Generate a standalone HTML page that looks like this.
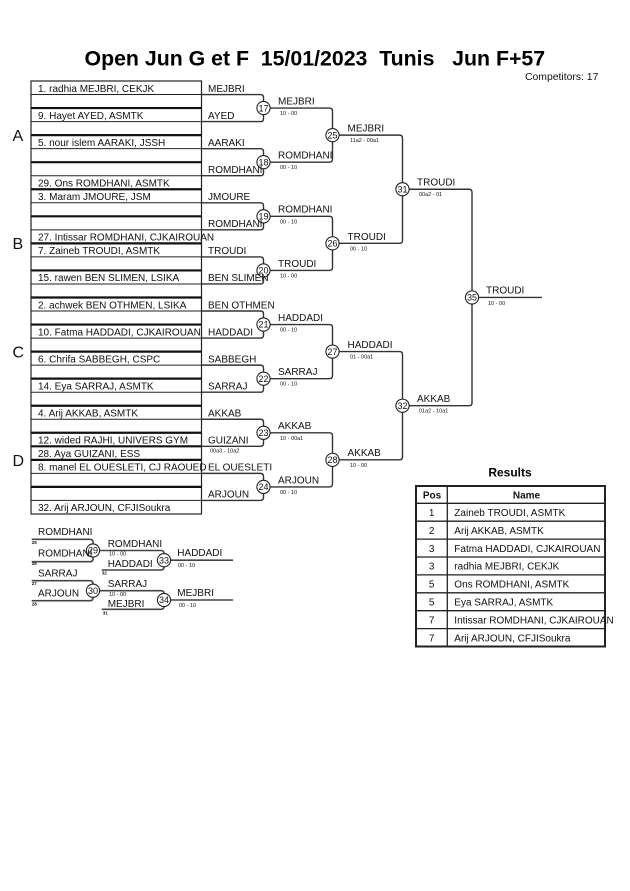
<!DOCTYPE html>
<html>
<head>
<meta charset="utf-8">
<style>
html,body{margin:0;padding:0;background:#fff;}
svg{display:block;}
text{font-family:"Liberation Sans",Arial,sans-serif;fill:#111;}
.n{font-size:10px;}
.s{font-size:5.5px;}
.c{font-size:9px;text-anchor:middle;}
.t{font-size:4.6px;font-weight:bold;}
</style>
</head>
<body>
<svg width="630" height="891" viewBox="0 0 630 891" xmlns="http://www.w3.org/2000/svg">
<rect width="630" height="891" fill="#fff"/>

<!-- Title -->
<text x="84.5" y="65.5" xml:space="preserve" style="font-size:21.3px;font-weight:bold;white-space:pre;fill:#000">Open Jun G et F  15/01/2023  Tunis   Jun F+57</text>
<text x="525" y="80" style="font-size:10.4px">Competitors: 17</text>

<!-- Pool letters -->
<text x="12.5" y="141" style="font-size:16px">A</text>
<text x="12.5" y="249" style="font-size:16px">B</text>
<text x="12.5" y="357.5" style="font-size:16px">C</text>
<text x="12.5" y="466" style="font-size:16px">D</text>

<!-- Left box -->
<g stroke="#222" fill="none">
<rect x="31" y="81" width="170.5" height="433" stroke-width="1.2"/>
<g stroke-width="1">
<line x1="31" y1="94.53" x2="201.5" y2="94.53"/>
<line x1="31" y1="121.59" x2="201.5" y2="121.59"/>
<line x1="31" y1="148.65" x2="201.5" y2="148.65"/>
<line x1="31" y1="175.71" x2="201.5" y2="175.71"/>
<line x1="31" y1="202.77" x2="201.5" y2="202.77"/>
<line x1="31" y1="229.83" x2="201.5" y2="229.83"/>
<line x1="31" y1="256.89" x2="201.5" y2="256.89"/>
<line x1="31" y1="283.95" x2="201.5" y2="283.95"/>
<line x1="31" y1="311.01" x2="201.5" y2="311.01"/>
<line x1="31" y1="338.07" x2="201.5" y2="338.07"/>
<line x1="31" y1="365.13" x2="201.5" y2="365.13"/>
<line x1="31" y1="392.19" x2="201.5" y2="392.19"/>
<line x1="31" y1="419.25" x2="201.5" y2="419.25"/>
<line x1="31" y1="446.31" x2="201.5" y2="446.31"/>
<line x1="31" y1="473.37" x2="201.5" y2="473.37"/>
<line x1="31" y1="500.43" x2="201.5" y2="500.43"/>
</g>
<g stroke-width="2.2" stroke="#111">
<line x1="31" y1="108.06" x2="201.5" y2="108.06"/>
<line x1="31" y1="135.12" x2="201.5" y2="135.12"/>
<line x1="31" y1="162.18" x2="201.5" y2="162.18"/>
<line x1="31" y1="189.24" x2="201.5" y2="189.24"/>
<line x1="31" y1="216.3" x2="201.5" y2="216.3"/>
<line x1="31" y1="243.36" x2="201.5" y2="243.36"/>
<line x1="31" y1="270.42" x2="201.5" y2="270.42"/>
<line x1="31" y1="297.48" x2="201.5" y2="297.48"/>
<line x1="31" y1="324.54" x2="201.5" y2="324.54"/>
<line x1="31" y1="351.6" x2="201.5" y2="351.6"/>
<line x1="31" y1="378.66" x2="201.5" y2="378.66"/>
<line x1="31" y1="405.72" x2="201.5" y2="405.72"/>
<line x1="31" y1="432.78" x2="201.5" y2="432.78"/>
<line x1="31" y1="446.31" x2="201.5" y2="446.31"/>
<line x1="31" y1="459.84" x2="201.5" y2="459.84"/>
<line x1="31" y1="486.9" x2="201.5" y2="486.9"/>
</g>
</g>

<!-- Bracket lines -->
<g stroke="#333" stroke-width="1.4" fill="none">
<path d="M201.5 94.53 H260.5 Q263.5 94.53 263.5 97.53 V118.59 Q263.5 121.59 260.5 121.59 H201.5"/>
<path d="M201.5 148.65 H260.5 Q263.5 148.65 263.5 151.65 V172.71 Q263.5 175.71 260.5 175.71 H201.5"/>
<path d="M201.5 202.77 H260.5 Q263.5 202.77 263.5 205.77 V226.83 Q263.5 229.83 260.5 229.83 H201.5"/>
<path d="M201.5 256.89 H260.5 Q263.5 256.89 263.5 259.89 V280.95 Q263.5 283.95 260.5 283.95 H201.5"/>
<path d="M201.5 311.01 H260.5 Q263.5 311.01 263.5 314.01 V335.07 Q263.5 338.07 260.5 338.07 H201.5"/>
<path d="M201.5 365.13 H260.5 Q263.5 365.13 263.5 368.13 V389.19 Q263.5 392.19 260.5 392.19 H201.5"/>
<path d="M201.5 419.25 H260.5 Q263.5 419.25 263.5 422.25 V443.31 Q263.5 446.31 260.5 446.31 H201.5"/>
<path d="M201.5 473.37 H260.5 Q263.5 473.37 263.5 476.37 V497.43 Q263.5 500.43 260.5 500.43 H201.5"/>

<path d="M263.5 108.06 H329.5 Q332.5 108.06 332.5 111.06 V159.18 Q332.5 162.18 329.5 162.18 H263.5"/>
<path d="M263.5 216.3 H329.5 Q332.5 216.3 332.5 219.3 V267.42 Q332.5 270.42 329.5 270.42 H263.5"/>
<path d="M263.5 324.54 H329.5 Q332.5 324.54 332.5 327.54 V375.66 Q332.5 378.66 329.5 378.66 H263.5"/>
<path d="M263.5 432.78 H329.5 Q332.5 432.78 332.5 435.78 V483.9 Q332.5 486.9 329.5 486.9 H263.5"/>

<path d="M332.5 135.12 H399.5 Q402.5 135.12 402.5 138.12 V240.36 Q402.5 243.36 399.5 243.36 H332.5"/>
<path d="M332.5 351.6 H399.5 Q402.5 351.6 402.5 354.6 V456.84 Q402.5 459.84 399.5 459.84 H332.5"/>

<path d="M402.5 189.24 H469 Q472 189.24 472 192.24 V402.72 Q472 405.72 469 405.72 H402.5"/>
<path d="M472 297.48 H542"/>
</g>

<!-- Consolation lines -->
<g stroke="#444" stroke-width="1.6" fill="none">
<path d="M31.7 539.3 H90 Q93 539.3 93 542.3 V558.7 Q93 561.7 90 561.7 H31.7"/>
<path d="M31.7 580.7 H90 Q93 580.7 93 583.7 V597.7 Q93 600.7 90 600.7 H31.7"/>
<path d="M93 550.5 H161 Q164 550.5 164 553.5 V567 Q164 570 161 570 H101.7"/>
<path d="M93 590.7 H161 Q164 590.7 164 593.7 V606.3 Q164 609.3 161 609.3 H101.7"/>
<path d="M164 560.2 H233"/>
<path d="M164 600 H233"/>
</g>

<!-- Circles -->
<g fill="#fff" stroke="#222" stroke-width="1.1">
<circle cx="263.5" cy="108.06" r="6.6"/>
<circle cx="263.5" cy="162.18" r="6.6"/>
<circle cx="263.5" cy="216.3" r="6.6"/>
<circle cx="263.5" cy="270.42" r="6.6"/>
<circle cx="263.5" cy="324.54" r="6.6"/>
<circle cx="263.5" cy="378.66" r="6.6"/>
<circle cx="263.5" cy="432.78" r="6.6"/>
<circle cx="263.5" cy="486.9" r="6.6"/>
<circle cx="332.5" cy="135.12" r="6.6"/>
<circle cx="332.5" cy="243.36" r="6.6"/>
<circle cx="332.5" cy="351.6" r="6.6"/>
<circle cx="332.5" cy="459.84" r="6.6"/>
<circle cx="402.5" cy="189.24" r="6.6"/>
<circle cx="402.5" cy="405.72" r="6.6"/>
<circle cx="472" cy="297.48" r="6.6"/>
<circle cx="93" cy="550.5" r="6.6"/>
<circle cx="93" cy="590.7" r="6.6"/>
<circle cx="164" cy="560.2" r="6.6"/>
<circle cx="164" cy="600" r="6.6"/>
</g>
<g class="c">
<text class="c" x="263.5" y="111.3">17</text>
<text class="c" x="263.5" y="165.4">18</text>
<text class="c" x="263.5" y="219.5">19</text>
<text class="c" x="263.5" y="273.6">20</text>
<text class="c" x="263.5" y="327.7">21</text>
<text class="c" x="263.5" y="381.9">22</text>
<text class="c" x="263.5" y="436">23</text>
<text class="c" x="263.5" y="490.1">24</text>
<text class="c" x="332.5" y="138.3">25</text>
<text class="c" x="332.5" y="246.6">26</text>
<text class="c" x="332.5" y="354.8">27</text>
<text class="c" x="332.5" y="463">28</text>
<text class="c" x="402.5" y="192.4">31</text>
<text class="c" x="402.5" y="408.9">32</text>
<text class="c" x="472" y="300.7">35</text>
<text class="c" x="93" y="553.7">29</text>
<text class="c" x="93" y="593.9">30</text>
<text class="c" x="164" y="563.4">33</text>
<text class="c" x="164" y="603.2">34</text>
</g>

<!-- Left box names -->
<text class="n" x="38" y="91.8">1. radhia MEJBRI, CEKJK</text>
<text class="n" x="38" y="118.9">9. Hayet AYED, ASMTK</text>
<text class="n" x="38" y="145.9">5. nour islem AARAKI, JSSH</text>
<text class="n" x="38" y="186.5">29. Ons ROMDHANI, ASMTK</text>
<text class="n" x="38" y="200">3. Maram JMOURE, JSM</text>
<text class="n" x="38" y="240.6">27. Intissar ROMDHANI, CJKAIROUAN</text>
<text class="n" x="38" y="254.2">7. Zaineb TROUDI, ASMTK</text>
<text class="n" x="38" y="281.2">15. rawen BEN SLIMEN, LSIKA</text>
<text class="n" x="38" y="308.3">2. achwek BEN OTHMEN, LSIKA</text>
<text class="n" x="38" y="335.3">10. Fatma HADDADI, CJKAIROUAN</text>
<text class="n" x="38" y="362.4">6. Chrifa SABBEGH, CSPC</text>
<text class="n" x="38" y="389.5">14. Eya SARRAJ, ASMTK</text>
<text class="n" x="38" y="416.5">4. Arij AKKAB, ASMTK</text>
<text class="n" x="38" y="443.6">12. wided RAJHI, UNIVERS GYM</text>
<text class="n" x="38" y="457.1">28. Aya GUIZANI, ESS</text>
<text class="n" x="38" y="470.6">8. manel EL OUESLETI, CJ RAOUED</text>
<text class="n" x="38" y="511.2">32. Arij ARJOUN, CFJISoukra</text>

<!-- Column 2 names -->
<text class="n" x="208" y="91.8">MEJBRI</text>
<text class="n" x="208" y="118.9">AYED</text>
<text class="n" x="208" y="145.9">AARAKI</text>
<text class="n" x="208" y="173">ROMDHANI</text>
<text class="n" x="208" y="200">JMOURE</text>
<text class="n" x="208" y="227.1">ROMDHANI</text>
<text class="n" x="208" y="254.2">TROUDI</text>
<text class="n" x="208" y="281.2">BEN SLIMEN</text>
<text class="n" x="208" y="308.3">BEN OTHMEN</text>
<text class="n" x="208" y="335.3">HADDADI</text>
<text class="n" x="208" y="362.4">SABBEGH</text>
<text class="n" x="208" y="389.5">SARRAJ</text>
<text class="n" x="208" y="416.5">AKKAB</text>
<text class="n" x="208" y="443.6">GUIZANI</text>
<text class="n" x="208" y="470.6">EL OUESLETI</text>
<text class="n" x="208" y="497.7">ARJOUN</text>
<text class="s" x="210" y="452.5">00a3 - 10a2</text>

<!-- Round 2 names -->
<text class="n" x="278" y="104.5">MEJBRI</text><text class="s" x="280" y="115.1">10 - 00</text>
<text class="n" x="278" y="158.6">ROMDHANI</text><text class="s" x="280" y="169.2">00 - 10</text>
<text class="n" x="278" y="212.7">ROMDHANI</text><text class="s" x="280" y="223.3">00 - 10</text>
<text class="n" x="278" y="266.8">TROUDI</text><text class="s" x="280" y="277.4">10 - 00</text>
<text class="n" x="278" y="320.9">HADDADI</text><text class="s" x="280" y="331.5">00 - 10</text>
<text class="n" x="278" y="375.1">SARRAJ</text><text class="s" x="280" y="385.7">00 - 10</text>
<text class="n" x="278" y="429.2">AKKAB</text><text class="s" x="280" y="439.8">10 - 00a1</text>
<text class="n" x="278" y="483.3">ARJOUN</text><text class="s" x="280" y="493.9">00 - 10</text>

<!-- Round 3 names -->
<text class="n" x="347.5" y="131.5">MEJBRI</text><text class="s" x="350" y="142.1">11a2 - 00a1</text>
<text class="n" x="347.5" y="239.8">TROUDI</text><text class="s" x="350" y="250.4">00 - 10</text>
<text class="n" x="347.5" y="348">HADDADI</text><text class="s" x="350" y="358.6">01 - 00a1</text>
<text class="n" x="347.5" y="456.2">AKKAB</text><text class="s" x="350" y="466.8">10 - 00</text>

<!-- Semis -->
<text class="n" x="417" y="185.6">TROUDI</text><text class="s" x="419" y="196.2">00a2 - 01</text>
<text class="n" x="417" y="402.1">AKKAB</text><text class="s" x="419" y="412.7">01a2 - 10a1</text>

<!-- Final -->
<text class="n" x="486" y="293.5">TROUDI</text><text class="s" x="488" y="305">10 - 00</text>

<!-- Consolation texts -->
<text class="n" x="38" y="535">ROMDHANI</text>
<text class="t" x="31.7" y="544">25</text>
<text class="n" x="38" y="556.5">ROMDHANI</text>
<text class="t" x="31.7" y="565">26</text>
<text class="n" x="38" y="576.7">SARRAJ</text>
<text class="t" x="31.7" y="585">27</text>
<text class="n" x="38" y="596.3">ARJOUN</text>
<text class="t" x="31.7" y="605.3">28</text>

<text class="n" x="107.7" y="547">ROMDHANI</text>
<text class="s" x="109" y="555.5">10 - 00</text>
<text class="n" x="107.7" y="567">HADDADI</text>
<text class="t" x="101.7" y="574.3">32</text>
<text class="n" x="107.7" y="587">SARRAJ</text>
<text class="s" x="109" y="596">10 - 00</text>
<text class="n" x="107.7" y="607">MEJBRI</text>
<text class="t" x="102.7" y="614.5">31</text>

<text class="n" x="177.3" y="556">HADDADI</text>
<text class="s" x="178" y="567">00 - 10</text>
<text class="n" x="177.3" y="596">MEJBRI</text>
<text class="s" x="179" y="607">00 - 10</text>

<!-- Results -->
<text x="510" y="476.7" style="font-size:12px;font-weight:bold;text-anchor:middle;fill:#000">Results</text>
<g stroke="#222" fill="none">
<rect x="416" y="486" width="189" height="160.5" stroke-width="2"/>
<g stroke-width="1.3">
<line x1="416" y1="503.3" x2="605" y2="503.3"/>
<line x1="416" y1="521.2" x2="605" y2="521.2"/>
<line x1="416" y1="539.1" x2="605" y2="539.1"/>
<line x1="416" y1="557" x2="605" y2="557"/>
<line x1="416" y1="574.9" x2="605" y2="574.9"/>
<line x1="416" y1="592.8" x2="605" y2="592.8"/>
<line x1="416" y1="610.7" x2="605" y2="610.7"/>
<line x1="416" y1="628.6" x2="605" y2="628.6"/>
<line x1="447.3" y1="486" x2="447.3" y2="646.5"/>
</g>
</g>
<text x="432" y="498.5" style="font-size:10px;font-weight:bold;text-anchor:middle">Pos</text>
<text x="526.5" y="498.5" style="font-size:10px;font-weight:bold;text-anchor:middle">Name</text>
<g class="n">
<text class="n" x="431.7" y="516" text-anchor="middle">1</text><text class="n" x="454.3" y="516">Zaineb TROUDI, ASMTK</text>
<text class="n" x="431.7" y="533.9" text-anchor="middle">2</text><text class="n" x="454.3" y="533.9">Arij AKKAB, ASMTK</text>
<text class="n" x="431.7" y="551.8" text-anchor="middle">3</text><text class="n" x="454.3" y="551.8">Fatma HADDADI, CJKAIROUAN</text>
<text class="n" x="431.7" y="569.7" text-anchor="middle">3</text><text class="n" x="454.3" y="569.7">radhia MEJBRI, CEKJK</text>
<text class="n" x="431.7" y="587.6" text-anchor="middle">5</text><text class="n" x="454.3" y="587.6">Ons ROMDHANI, ASMTK</text>
<text class="n" x="431.7" y="605.5" text-anchor="middle">5</text><text class="n" x="454.3" y="605.5">Eya SARRAJ, ASMTK</text>
<text class="n" x="431.7" y="623.4" text-anchor="middle">7</text><text class="n" x="454.3" y="623.4">Intissar ROMDHANI, CJKAIROUAN</text>
<text class="n" x="431.7" y="641.3" text-anchor="middle">7</text><text class="n" x="454.3" y="641.3">Arij ARJOUN, CFJISoukra</text>
</g>
</svg>
</body>
</html>
